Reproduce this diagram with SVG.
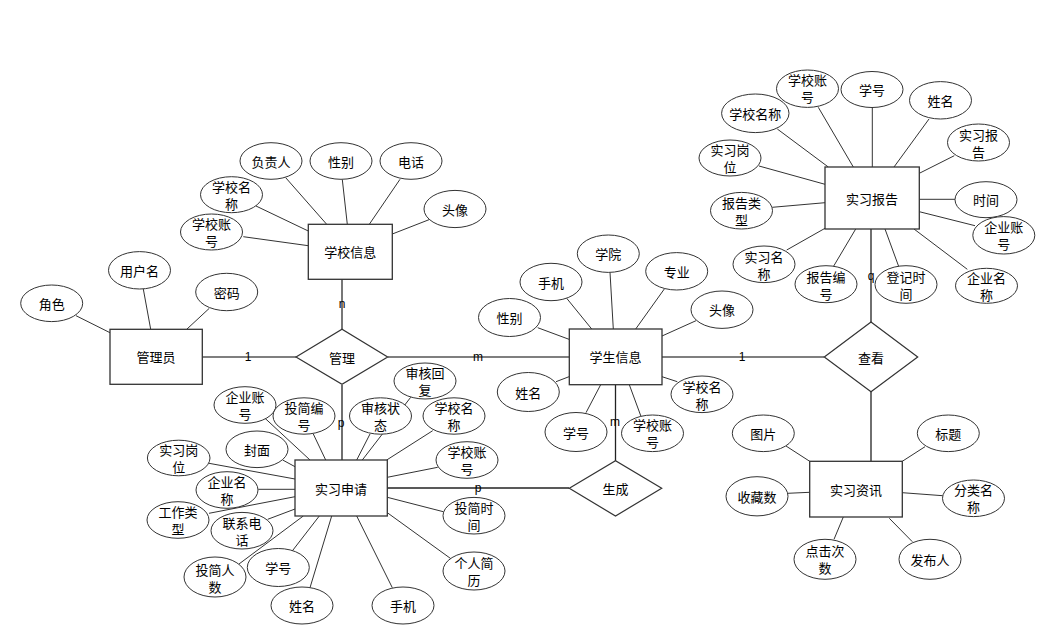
<svg xmlns="http://www.w3.org/2000/svg" width="1055" height="626" viewBox="0 0 1055 626">
<style>
.bg{fill:#fff}
.ent{fill:#fff;stroke:#333;stroke-width:1.3}
.rel{fill:#fff;stroke:#333;stroke-width:1.2}
.att{fill:#fff;stroke:#333;stroke-width:1}
.al{stroke:#333;stroke-width:1;fill:none}
.rl{stroke:#555;stroke-width:1.6;fill:none}
.rl2{stroke:#222;stroke-width:1.3;fill:none}
text{font-family:"Noto Sans CJK SC","Liberation Sans",sans-serif;font-size:13px;fill:#000;text-anchor:middle;dominant-baseline:central}
.lb{font-family:"Liberation Sans",sans-serif;font-size:12px}
</style>
<rect class="bg" x="0" y="0" width="1055" height="626"/>

<g id="connectors">
  <!-- relationship lines -->
  <line class="rl" x1="202" y1="357" x2="296" y2="357"/>
  <line class="rl" x1="388" y1="357" x2="569" y2="357"/>
  <line class="rl" x1="662" y1="357" x2="824" y2="357"/>
  <line class="rl" x1="342" y1="279" x2="342" y2="329"/>
  <line class="rl2" x1="342" y1="385" x2="342" y2="460"/>
  <line class="rl2" x1="387" y1="488" x2="569" y2="488"/>
  <line class="rl2" x1="615.5" y1="385" x2="615.5" y2="461"/>
  <line class="rl2" x1="871" y1="229" x2="871" y2="322"/>
  <line class="rl2" x1="871" y1="392" x2="871" y2="461"/>
  <text class="lb" x="248" y="357">1</text>
  <text class="lb" x="478" y="357">m</text>
  <text class="lb" x="742" y="357">1</text>
  <text class="lb" x="342" y="304">n</text>
  <text class="lb" x="341" y="423">p</text>
  <text class="lb" x="478" y="488">p</text>
  <text class="lb" x="615" y="422">m</text>
  <text class="lb" x="871" y="276">q</text>

  <!-- 学校信息 attributes -->
  <line class="al" x1="285.7" y1="177.7" x2="326.7" y2="224.3"/>
  <line class="al" x1="342.3" y1="179.5" x2="347.3" y2="224.3"/>
  <line class="al" x1="400" y1="179.3" x2="369.3" y2="224.3"/>
  <line class="al" x1="430" y1="219.3" x2="392.3" y2="234"/>
  <line class="al" x1="256" y1="206" x2="308.3" y2="231"/>
  <line class="al" x1="243.3" y1="236.7" x2="308.3" y2="245.7"/>

  <!-- 管理员 attributes -->
  <line class="al" x1="76" y1="315.7" x2="110" y2="332.7"/>
  <line class="al" x1="143.3" y1="289" x2="150.7" y2="329.3"/>
  <line class="al" x1="209.3" y1="308.3" x2="186.7" y2="329.3"/>

  <!-- 实习申请 attributes -->
  <line class="al" x1="263.3" y1="416.7" x2="310" y2="460"/>
  <line class="al" x1="313.3" y1="434" x2="325.7" y2="460"/>
  <line class="al" x1="370" y1="434" x2="356.7" y2="460"/>
  <line class="al" x1="410.7" y1="397.3" x2="362.3" y2="460"/>
  <line class="al" x1="432.7" y1="430.7" x2="386.7" y2="460"/>
  <line class="al" x1="282.7" y1="460" x2="295" y2="466.7"/>
  <line class="al" x1="437.7" y1="467.3" x2="387.3" y2="477.3"/>
  <line class="al" x1="209" y1="463.3" x2="295" y2="479"/>
  <line class="al" x1="258.3" y1="489.3" x2="295" y2="489.3"/>
  <line class="al" x1="209" y1="513.3" x2="295" y2="496.7"/>
  <line class="al" x1="267.7" y1="519.3" x2="295" y2="509"/>
  <line class="al" x1="443.3" y1="511.7" x2="387.3" y2="497.3"/>
  <line class="al" x1="451.7" y1="559.3" x2="387.3" y2="512.7"/>
  <line class="al" x1="239" y1="564" x2="303.3" y2="516"/>
  <line class="al" x1="291.7" y1="551.7" x2="319.3" y2="516"/>
  <line class="al" x1="310" y1="587.7" x2="331.7" y2="516"/>
  <line class="al" x1="392.3" y1="587.7" x2="356.7" y2="516"/>

  <!-- 学生信息 attributes -->
  <line class="al" x1="610" y1="272.3" x2="613.3" y2="329"/>
  <line class="al" x1="566.7" y1="298.3" x2="591.7" y2="329"/>
  <line class="al" x1="664.3" y1="289" x2="635.7" y2="329"/>
  <line class="al" x1="537.7" y1="327.7" x2="569" y2="339.3"/>
  <line class="al" x1="696" y1="320.7" x2="662" y2="336"/>
  <line class="al" x1="556" y1="381.7" x2="569" y2="376.7"/>
  <line class="al" x1="677.3" y1="381.7" x2="662" y2="376.7"/>
  <line class="al" x1="586" y1="412.7" x2="600.7" y2="384.7"/>
  <line class="al" x1="641.7" y1="418.3" x2="629.3" y2="384.7"/>

  <!-- 实习报告 attributes -->
  <line class="al" x1="818.3" y1="107.3" x2="853.3" y2="167"/>
  <line class="al" x1="872.3" y1="107.3" x2="872.3" y2="167"/>
  <line class="al" x1="929" y1="119" x2="894" y2="167"/>
  <line class="al" x1="777.3" y1="129" x2="828.3" y2="167"/>
  <line class="al" x1="954.3" y1="155.7" x2="919.3" y2="173.3"/>
  <line class="al" x1="759" y1="166" x2="825" y2="184.3"/>
  <line class="al" x1="955" y1="199.3" x2="919.3" y2="199.3"/>
  <line class="al" x1="772.3" y1="207.3" x2="825" y2="202.7"/>
  <line class="al" x1="975" y1="225.7" x2="919.3" y2="211.7"/>
  <line class="al" x1="786.7" y1="250" x2="825" y2="228.3"/>
  <line class="al" x1="833.3" y1="266.7" x2="855.7" y2="229"/>
  <line class="al" x1="899" y1="267.3" x2="885" y2="229"/>
  <line class="al" x1="967.3" y1="269.3" x2="914" y2="229"/>

  <!-- 实习资讯 attributes -->
  <line class="al" x1="786" y1="446" x2="809.7" y2="461.3"/>
  <line class="al" x1="925" y1="446.7" x2="902.3" y2="461.3"/>
  <line class="al" x1="787.7" y1="493.3" x2="809.7" y2="492.3"/>
  <line class="al" x1="942.7" y1="495.7" x2="902.3" y2="492.7"/>
  <line class="al" x1="834" y1="539.3" x2="843.3" y2="517"/>
  <line class="al" x1="912.3" y1="541.7" x2="889.3" y2="518.3"/>
</g>

<!-- entities -->
<g id="school-info"><rect class="ent" x="308.3" y="224.3" width="84" height="55"/><text x="350.3" y="251.8">学校信息</text></g>
<g id="admin"><rect class="ent" x="110" y="329.3" width="92.3" height="55"/><text x="156" y="356.8">管理员</text></g>
<g id="application"><rect class="ent" x="295" y="460" width="92.3" height="56"/><text x="341" y="488">实习申请</text></g>
<g id="student-info"><rect class="ent" x="569.3" y="329" width="92.7" height="55.7"/><text x="615.5" y="356.8">学生信息</text></g>
<g id="report"><rect class="ent" x="825" y="167" width="94.3" height="62"/><text x="872" y="198">实习报告</text></g>
<g id="news"><rect class="ent" x="809.7" y="461.3" width="92.6" height="55.7"/><text x="856" y="489">实习资讯</text></g>

<!-- relationships -->
<g id="rel-manage"><polygon class="rel" points="296,357 342,329.3 387.7,357 342,384.3"/><text x="342" y="357">管理</text></g>
<g id="rel-view"><polygon class="rel" points="824.3,357 871,322 917.7,357 871,391.7"/><text x="871" y="357">查看</text></g>
<g id="rel-generate"><polygon class="rel" points="569.3,488.3 615.5,460.7 661.7,488.3 615.5,516"/><text x="615.5" y="488.3">生成</text></g>

<!-- 学校信息 attributes -->
<g id="si-fzr"><ellipse class="att" cx="271" cy="161" rx="31" ry="18.3"/><text x="271" y="161">负责人</text></g>
<g id="si-xb"><ellipse class="att" cx="341" cy="161" rx="31" ry="18.3"/><text x="341" y="161">性别</text></g>
<g id="si-dh"><ellipse class="att" cx="411" cy="161" rx="31" ry="18.3"/><text x="411" y="161">电话</text></g>
<g id="si-tx"><ellipse class="att" cx="455" cy="209" rx="31" ry="18.6"/><text x="455" y="209">头像</text></g>
<g id="si-xxmc"><ellipse class="att" cx="231.5" cy="194.7" rx="31" ry="18"/><text x="231.5" y="186">学校名</text><text x="231.5" y="203">称</text></g>
<g id="si-xxzh"><ellipse class="att" cx="211.5" cy="232" rx="31" ry="18"/><text x="211.5" y="223">学校账</text><text x="211.5" y="240">号</text></g>

<!-- 管理员 attributes -->
<g id="ad-js"><ellipse class="att" cx="51.7" cy="303.3" rx="31" ry="18.3"/><text x="51.7" y="303.3">角色</text></g>
<g id="ad-yhm"><ellipse class="att" cx="139.5" cy="270.3" rx="31" ry="18.7"/><text x="139.5" y="270.3">用户名</text></g>
<g id="ad-mm"><ellipse class="att" cx="226.7" cy="292" rx="31" ry="18.7"/><text x="226.7" y="292">密码</text></g>

<!-- 实习申请 attributes -->
<g id="ap-shhf"><ellipse class="att" cx="425" cy="381" rx="31" ry="18"/><text x="425" y="372">审核回</text><text x="425" y="389">复</text></g>
<g id="ap-qyzh"><ellipse class="att" cx="245" cy="405" rx="31" ry="18.3"/><text x="245" y="396">企业账</text><text x="245" y="413">号</text></g>
<g id="ap-tjbh"><ellipse class="att" cx="304" cy="416" rx="31" ry="18.2"/><text x="304" y="407">投简编</text><text x="304" y="424">号</text></g>
<g id="ap-shzt"><ellipse class="att" cx="380.5" cy="416" rx="31" ry="18.2"/><text x="380.5" y="407">审核状</text><text x="380.5" y="424">态</text></g>
<g id="ap-xxmc"><ellipse class="att" cx="454" cy="416" rx="31" ry="18.2"/><text x="454" y="407">学校名</text><text x="454" y="424">称</text></g>
<g id="ap-fm"><ellipse class="att" cx="257" cy="449.3" rx="31" ry="18.3"/><text x="257" y="449.3">封面</text></g>
<g id="ap-xxzh"><ellipse class="att" cx="467" cy="460" rx="31" ry="18.3"/><text x="467" y="451">学校账</text><text x="467" y="468">号</text></g>
<g id="ap-sxgw"><ellipse class="att" cx="178.7" cy="458" rx="31.3" ry="17.8"/><text x="178.7" y="449">实习岗</text><text x="178.7" y="466">位</text></g>
<g id="ap-qymc"><ellipse class="att" cx="227" cy="490" rx="31" ry="18.3"/><text x="227" y="481">企业名</text><text x="227" y="498">称</text></g>
<g id="ap-gzlx"><ellipse class="att" cx="178" cy="520" rx="31" ry="18.3"/><text x="178" y="511">工作类</text><text x="178" y="528">型</text></g>
<g id="ap-lxdh"><ellipse class="att" cx="242" cy="530.7" rx="31" ry="18.3"/><text x="242" y="522">联系电</text><text x="242" y="539">话</text></g>
<g id="ap-tjsj"><ellipse class="att" cx="474" cy="515.7" rx="31" ry="18.3"/><text x="474" y="507">投简时</text><text x="474" y="524">间</text></g>
<g id="ap-tjrs"><ellipse class="att" cx="215" cy="577" rx="31" ry="20"/><text x="215" y="569">投简人</text><text x="215" y="586">数</text></g>
<g id="ap-xh"><ellipse class="att" cx="278.3" cy="567.5" rx="31" ry="19"/><text x="278.3" y="567.5">学号</text></g>
<g id="ap-xm"><ellipse class="att" cx="302" cy="605.5" rx="31" ry="18.5"/><text x="302" y="605.5">姓名</text></g>
<g id="ap-sj"><ellipse class="att" cx="403" cy="605.5" rx="31" ry="18.5"/><text x="403" y="605.5">手机</text></g>
<g id="ap-grjl"><ellipse class="att" cx="474" cy="571" rx="31" ry="19"/><text x="474" y="562">个人简</text><text x="474" y="579">历</text></g>

<!-- 学生信息 attributes -->
<g id="st-xy"><ellipse class="att" cx="608.3" cy="253.7" rx="31" ry="18.7"/><text x="608.3" y="253.7">学院</text></g>
<g id="st-sj"><ellipse class="att" cx="551" cy="282" rx="31" ry="18.7"/><text x="551" y="282">手机</text></g>
<g id="st-zy"><ellipse class="att" cx="676.7" cy="271.3" rx="31" ry="18.7"/><text x="676.7" y="271.3">专业</text></g>
<g id="st-xb"><ellipse class="att" cx="509.5" cy="317.5" rx="31" ry="19"/><text x="509.5" y="317.5">性别</text></g>
<g id="st-tx"><ellipse class="att" cx="722" cy="309.7" rx="31" ry="18.7"/><text x="722" y="309.7">头像</text></g>
<g id="st-xm"><ellipse class="att" cx="528.3" cy="392" rx="31" ry="19.5"/><text x="528.3" y="392">姓名</text></g>
<g id="st-xxmc"><ellipse class="att" cx="702" cy="394.3" rx="31" ry="18.3"/><text x="702" y="386">学校名</text><text x="702" y="403">称</text></g>
<g id="st-xh"><ellipse class="att" cx="576" cy="432" rx="31" ry="19.5"/><text x="576" y="432">学号</text></g>
<g id="st-xxzh"><ellipse class="att" cx="652.5" cy="433.3" rx="31" ry="18.3"/><text x="652.5" y="424">学校账</text><text x="652.5" y="441">号</text></g>

<!-- 实习报告 attributes -->
<g id="rp-xxzh"><ellipse class="att" cx="807.5" cy="88.7" rx="31" ry="18.7"/><text x="807.5" y="79">学校账</text><text x="807.5" y="96">号</text></g>
<g id="rp-xh"><ellipse class="att" cx="872" cy="89.5" rx="31" ry="18"/><text x="872" y="89.5">学号</text></g>
<g id="rp-xm"><ellipse class="att" cx="940.5" cy="100.3" rx="31" ry="18.7"/><text x="940.5" y="100.3">姓名</text></g>
<g id="rp-xxmc"><ellipse class="att" cx="755.3" cy="113.3" rx="33.7" ry="19.3"/><text x="755.3" y="113.3">学校名称</text></g>
<g id="rp-sxbg"><ellipse class="att" cx="978.5" cy="142.5" rx="31" ry="18.5"/><text x="978.5" y="134">实习报</text><text x="978.5" y="151">告</text></g>
<g id="rp-sxgw"><ellipse class="att" cx="730" cy="158" rx="31" ry="18"/><text x="730" y="149">实习岗</text><text x="730" y="166">位</text></g>
<g id="rp-sj"><ellipse class="att" cx="986" cy="199.7" rx="31" ry="18"/><text x="986" y="199.7">时间</text></g>
<g id="rp-bglx"><ellipse class="att" cx="741.5" cy="210.7" rx="31" ry="18.3"/><text x="741.5" y="202">报告类</text><text x="741.5" y="219">型</text></g>
<g id="rp-qyzh"><ellipse class="att" cx="1003.8" cy="235.3" rx="31" ry="18.7"/><text x="1003.8" y="226">企业账</text><text x="1003.8" y="243">号</text></g>
<g id="rp-sxmc"><ellipse class="att" cx="764" cy="264.3" rx="31" ry="18.3"/><text x="764" y="256">实习名</text><text x="764" y="273">称</text></g>
<g id="rp-bgbh"><ellipse class="att" cx="826" cy="284.2" rx="31" ry="18.5"/><text x="826" y="276">报告编</text><text x="826" y="293">号</text></g>
<g id="rp-djsj"><ellipse class="att" cx="906" cy="284.5" rx="31" ry="18.8"/><text x="906" y="276">登记时</text><text x="906" y="293">间</text></g>
<g id="rp-qymc"><ellipse class="att" cx="986.5" cy="285.8" rx="31" ry="17.5"/><text x="986.5" y="277">企业名</text><text x="986.5" y="294">称</text></g>

<!-- 实习资讯 attributes -->
<g id="nw-tp"><ellipse class="att" cx="763.3" cy="433.3" rx="31" ry="18.3"/><text x="763.3" y="433.3">图片</text></g>
<g id="nw-bt"><ellipse class="att" cx="948.3" cy="433.3" rx="31" ry="18.3"/><text x="948.3" y="433.3">标题</text></g>
<g id="nw-scs"><ellipse class="att" cx="757" cy="496.3" rx="31" ry="19.6"/><text x="757" y="496.3">收藏数</text></g>
<g id="nw-flmc"><ellipse class="att" cx="973.5" cy="498.3" rx="31" ry="18.3"/><text x="973.5" y="489">分类名</text><text x="973.5" y="506">称</text></g>
<g id="nw-djcs"><ellipse class="att" cx="825" cy="559.3" rx="31" ry="20"/><text x="825" y="550">点击次</text><text x="825" y="567">数</text></g>
<g id="nw-fbr"><ellipse class="att" cx="930" cy="559.3" rx="31" ry="20"/><text x="930" y="559.3">发布人</text></g>
</svg>
